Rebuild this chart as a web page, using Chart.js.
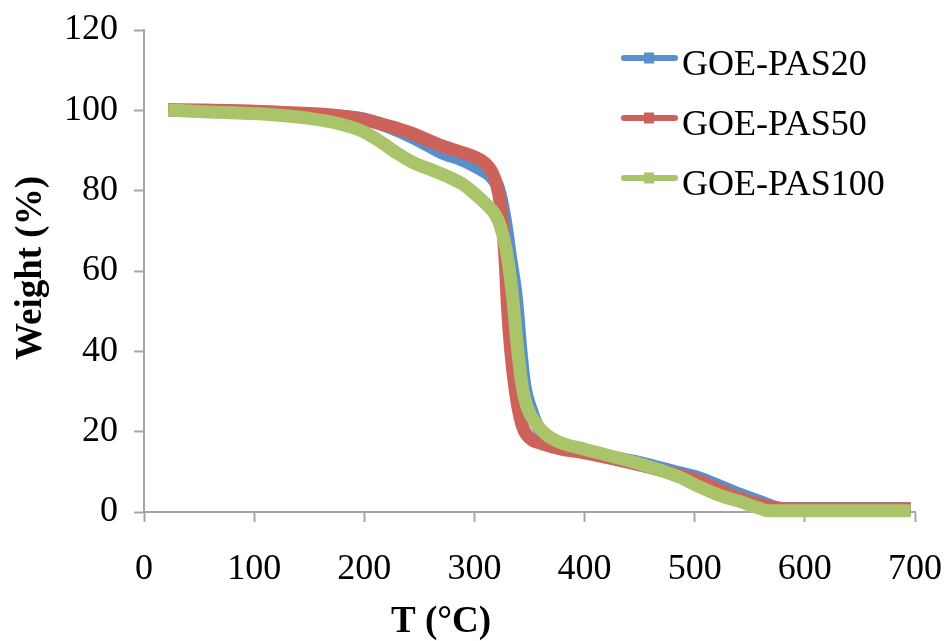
<!DOCTYPE html>
<html>
<head>
<meta charset="utf-8">
<script src="https://cdn.jsdelivr.net/npm/chart.js@4.4.1/dist/chart.umd.min.js"></script>
<style>
  html, body { margin: 0; padding: 0; background: #fff; }
  #wrap { width: 947px; height: 641px; }
</style>
</head>
<body>
<div id="wrap"><canvas id="tga-chart" width="947" height="641"></canvas></div>
<script>
// TGA curves: temperature (°C) and remaining weight (%)
const tempPAS20 = [22, 50, 100, 150, 200, 230, 250, 270, 290, 305, 315, 322, 328, 333, 338, 342.7, 346, 351.7, 358, 365, 380, 400, 450, 480, 504, 525, 540, 560, 578, 600, 650, 696];
const weightPAS20 = [100.0, 99.9, 99.6, 99.0, 97.8, 95.0, 92.4, 89.5, 87.5, 85.4, 83.5, 80.5, 72.7, 63, 53.5, 38.6, 31, 25.4, 21, 18.8, 16.5, 15, 12.3, 10.2, 8.5, 6.2, 4.5, 2.5, 0.9, 0.8, 0.8, 0.8];

const tempPAS50 = [22, 50, 100, 150, 178, 200, 214, 232, 244, 268, 290, 300, 310, 316, 320, 323, 326, 328, 330, 333, 337, 341, 345, 352, 359, 380, 395, 420, 450, 480, 504, 525, 540, 560, 575, 585, 640, 696];
const weightPAS50 = [100.2, 100.1, 99.8, 99.2, 98.6, 97.7, 96.7, 95.3, 94.2, 91.4, 89.4, 88.4, 86.8, 84.6, 81.6, 77.5, 70, 62, 51, 40, 30.4, 24, 20.4, 18, 17.2, 15.6, 15, 13.6, 11.7, 9.6, 7.7, 5.2, 3.5, 1.8, 1, 0.8, 0.8, 0.8];

const tempPAS100 = [22, 50, 111, 150, 178, 200, 214, 230, 245, 260, 275, 290, 300, 310, 318, 323, 329, 334.5, 339, 343.5, 348, 356, 365, 377, 400, 450, 486, 504, 522, 540, 558, 567, 600, 650, 696];
const weightPAS100 = [100.1, 99.7, 99.0, 98.0, 96.6, 94.6, 92.3, 89.3, 86.9, 85.3, 83.6, 81.5, 79.3, 76.8, 74.4, 71.6, 65, 54, 41, 31, 26, 22, 19.3, 17.4, 15.6, 12, 8.7, 6.3, 4.2, 2.7, 1, 0.3, 0.3, 0.3, 0.3];

const seriesNames = ["GOE-PAS20", "GOE-PAS50", "GOE-PAS100"];
const seriesColors = ["#5890CC", "#CC6259", "#AAC46A"];

const xTickValues = [0, 100, 200, 300, 400, 500, 600, 700];
const yTickValues = [0, 20, 40, 60, 80, 100, 120];

const axisGray = "#A6A6A6";
const serif = "'Liberation Serif', 'Times New Roman', serif";

function toPoints(xs, ys) {
  return xs.map((x, i) => ({ x: x, y: ys[i] }));
}

function makeSeries(i, xs, ys, order) {
  return {
    label: seriesNames[i],
    data: toPoints(xs, ys),
    borderColor: seriesColors[i],
    backgroundColor: seriesColors[i],
    borderWidth: 13,
    borderCapStyle: "butt",
    borderJoinStyle: "round",
    pointRadius: 0,
    cubicInterpolationMode: "monotone",
    fill: false,
    clip: false,
    order: order,
  };
}

// axis titles + legend drawn by hand so they sit where Excel put them
const overlay = {
  id: "overlay",
  afterDraw(chart) {
    const ctx = chart.ctx;
    ctx.save();
    ctx.fillStyle = "#000";
    ctx.font = "bold 37px " + serif;
    ctx.textAlign = "center";
    ctx.textBaseline = "middle";
    ctx.fillText("T (°C)", 441, 622);
    ctx.save();
    ctx.translate(31, 268);
    ctx.rotate(-Math.PI / 2);
    ctx.fillText("Weight (%)", 0, 0);
    ctx.restore();

    const rows = [58, 118, 178];
    chart.data.datasets.forEach(function (ds, i) {
      const y = rows[i];
      ctx.strokeStyle = ds.borderColor;
      ctx.lineWidth = 6;
      ctx.lineCap = "round";
      ctx.beginPath();
      ctx.moveTo(624, y);
      ctx.lineTo(675, y);
      ctx.stroke();
      ctx.fillStyle = ds.borderColor;
      ctx.fillRect(644, y - 5.5, 10, 11);
      ctx.fillStyle = "#000";
      ctx.font = "36px " + serif;
      ctx.textAlign = "left";
      ctx.textBaseline = "alphabetic";
      ctx.fillText(ds.label, 682, y + 17);
    });
    ctx.restore();
  },
};

const ctx = document.getElementById("tga-chart").getContext("2d");
const tgaChart = new Chart(ctx, {
  type: "line",
  data: {
    datasets: [
      makeSeries(0, tempPAS20, weightPAS20, 3),
      makeSeries(1, tempPAS50, weightPAS50, 2),
      makeSeries(2, tempPAS100, weightPAS100, 1),
    ],
  },
  options: {
    responsive: false,
    animation: false,
    layout: {
      padding: { left: 0, top: 30, right: 32, bottom: 0 },
    },
    scales: {
      x: {
        type: "linear",
        min: 0,
        max: 700,
        afterBuildTicks: function (scale) {
          scale.ticks = xTickValues.map((v) => ({ value: v }));
        },
        afterFit: function (scale) {
          // fixed band height, and no extra room for the end labels
          scale.height = 129;
          scale.paddingLeft = 0;
          scale.paddingRight = 0;
        },
        grid: {
          drawOnChartArea: false,
          drawTicks: true,
          tickLength: 10,
          tickColor: axisGray,
          tickWidth: 2,
        },
        border: { color: axisGray, width: 2 },
        ticks: {
          color: "#000",
          padding: 26,
          maxRotation: 0,
          font: { family: serif, size: 36 },
        },
      },
      y: {
        min: 0,
        max: 120,
        afterBuildTicks: function (scale) {
          scale.ticks = yTickValues.map((v) => ({ value: v }));
        },
        afterFit: function (scale) {
          scale.width = 144;
          scale.paddingTop = 0;
          scale.paddingBottom = 0;
        },
        grid: {
          drawOnChartArea: false,
          drawTicks: true,
          tickLength: 10,
          tickColor: axisGray,
          tickWidth: 2,
        },
        border: { color: axisGray, width: 2 },
        ticks: {
          color: "#000",
          padding: 16,
          font: { family: serif, size: 36 },
        },
      },
    },
    plugins: {
      legend: { display: false },
      tooltip: { enabled: false },
    },
  },
  plugins: [overlay],
});
</script>
</body>
</html>
